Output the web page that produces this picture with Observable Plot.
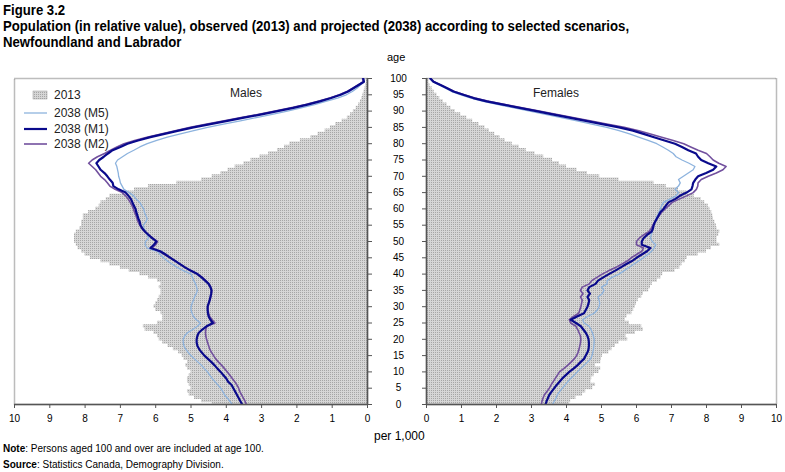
<!DOCTYPE html>
<html>
<head>
<meta charset="utf-8">
<script src="https://cdn.jsdelivr.net/npm/d3@7"></script>
<script src="https://cdn.jsdelivr.net/npm/@observablehq/plot@0.6"></script>
<style>
  body { margin: 0; background: #fff; }
  #root { position: relative; width: 785px; height: 472px; overflow: hidden; font-family: "Liberation Sans", Arial, sans-serif; color: #000; }
  .narrow { font-family: "Liberation Sans Narrow", "Arial Narrow", "Liberation Sans", Arial, sans-serif; }
  .title { position: absolute; left: 3px; font-weight: bold; font-size: 14px; line-height: 16px; white-space: nowrap; transform: scaleX(0.94); transform-origin: 0 0; }
  .abs { position: absolute; white-space: nowrap; }
  .leg { position: absolute; font-size: 12px; color: #222; white-space: nowrap; }
</style>
</head>
<body>
<svg width="0" height="0" style="position:absolute">
  <defs>
    <pattern id="dots" width="2" height="2" patternUnits="userSpaceOnUse">
      <rect width="2" height="2" fill="#d6d6d6"></rect>
      <rect width="1" height="1" fill="#a6a6a6"></rect>
    </pattern>
  </defs>
</svg>
<div id="root">
  <div class="title narrow" style="top:2px">Figure 3.2</div>
  <div class="title narrow" style="top:18px">Population (in relative value), observed (2013) and projected (2038) according to selected scenarios,</div>
  <div class="title narrow" style="top:34px">Newfoundland and Labrador</div>
  <div class="abs" style="left:387px;top:51px;font-size:11px">age</div>
  <div id="left" style="position:absolute;left:0;top:50px"></div>
  <div id="right" style="position:absolute;left:397px;top:50px"></div>
  <div id="legend"></div>
  <div class="abs" style="left:230px;top:86px;font-size:12px;color:#222">Males</div>
  <div class="abs" style="left:533px;top:86px;font-size:12px;color:#222">Females</div>
  <div class="abs" style="left:374px;top:429px;font-size:12px">per 1,000</div>
  <div class="abs narrow" style="left:3px;top:443px;font-size:10px"><b>Note</b>: Persons aged 100 and over are included at age 100.</div>
  <div class="abs narrow" style="left:3px;top:459px;font-size:10px"><b>Source</b>:  Statistics Canada, Demography Division.</div>
</div>
<script>
const ages = d3.range(0, 101);
const xTicks = [0,1,2,3,4,5,6,7,8,9,10];
const ageTicks = [0,5,10,15,20,25,30,35,40,45,50,55,60,65,70,75,80,85,90,95,100];
const seriesNames = ["2013", "2038 (M5)", "2038 (M1)", "2038 (M2)"];

const males2013 = [4.4,4.7,4.9,5.05,5.1,5.0,5.05,5.1,5.1,5.05,5.0,5.1,5.15,5.1,5.2,5.25,5.35,5.5,5.65,5.8,
  5.9,5.95,6.05,6.3,6.35,5.95,5.8,5.8,5.85,6.0,6.05,6.0,5.95,5.9,5.85,5.85,5.9,5.85,5.95,6.2,
  6.45,6.75,7.0,7.3,7.55,7.85,8.0,8.1,8.2,8.25,8.3,8.3,8.3,8.25,8.15,8.1,8.1,8.05,8.05,7.9,
  7.7,7.6,7.55,7.4,7.3,6.8,6.6,6.2,5.4,4.7,4.4,4.15,3.95,3.75,3.5,3.3,3.05,2.8,2.55,2.35,
  2.2,1.9,1.6,1.4,1.2,1.05,0.9,0.72,0.57,0.48,0.4,0.32,0.25,0.2,0.16,0.13,0.1,0.07,0.05,0.03,0.03];
const malesM1 = [3.55,3.6,3.65,3.7,3.75,3.8,3.85,3.95,4.0,4.08,4.16,4.25,4.33,4.42,4.52,4.62,4.7,4.77,4.82,4.84,
  4.84,4.82,4.78,4.68,4.56,4.38,4.45,4.5,4.52,4.53,4.53,4.5,4.47,4.45,4.43,4.42,4.45,4.5,4.6,4.7,
  4.82,5.0,5.16,5.3,5.44,5.58,5.72,5.87,6.15,6.05,5.98,6.1,6.2,6.3,6.38,6.43,6.45,6.49,6.52,6.55,
  6.57,6.62,6.66,6.7,6.77,6.85,7.05,7.2,7.22,7.3,7.37,7.45,7.56,7.62,7.68,7.6,7.47,7.35,7.22,7.0,
  6.8,6.5,6.15,5.75,5.35,4.93,4.45,3.97,3.5,3.0,2.55,2.1,1.7,1.35,1.03,0.76,0.55,0.4,0.25,0.1,0.12];
const malesM2 = [3.43,3.47,3.52,3.57,3.62,3.65,3.7,3.76,3.83,3.9,3.97,4.05,4.13,4.22,4.3,4.36,4.42,4.47,4.5,4.53,
  4.56,4.58,4.59,4.58,4.55,4.32,4.4,4.47,4.5,4.52,4.52,4.5,4.47,4.44,4.42,4.41,4.44,4.5,4.58,4.68,
  4.8,4.98,5.15,5.3,5.44,5.6,5.75,5.9,6.1,6.0,5.95,6.08,6.2,6.3,6.38,6.45,6.5,6.53,6.56,6.6,
  6.63,6.67,6.72,6.78,6.85,6.95,7.15,7.3,7.37,7.45,7.56,7.63,7.7,7.8,7.9,7.8,7.65,7.45,7.28,7.1,
  6.9,6.6,6.25,5.85,5.45,5.02,4.55,4.06,3.58,3.08,2.62,2.17,1.76,1.4,1.07,0.8,0.58,0.42,0.27,0.12,0.14];
const malesM5 = [3.83,3.9,3.97,4.05,4.1,4.16,4.24,4.32,4.4,4.47,4.53,4.62,4.7,4.8,4.9,5.0,5.08,5.15,5.2,5.22,
  5.22,5.18,5.1,4.95,4.82,4.73,4.85,4.93,4.97,5.0,5.0,4.97,4.93,4.9,4.85,4.82,4.84,4.87,4.92,4.96,
  5.0,5.2,5.38,5.53,5.67,5.78,5.87,5.95,6.24,6.3,6.29,6.2,6.24,6.28,6.33,6.35,6.28,6.24,6.28,6.32,
  6.34,6.4,6.45,6.55,6.62,6.75,6.9,6.95,7.0,7.02,7.05,7.06,7.08,7.1,7.14,7.08,6.94,6.8,6.62,6.45,
  6.24,5.97,5.67,5.3,4.92,4.53,4.08,3.6,3.15,2.7,2.27,1.88,1.5,1.18,0.85,0.6,0.43,0.3,0.2,0.1,0.12];

const females2013 = [4.08,4.12,4.27,4.46,4.55,4.75,4.83,4.7,4.72,4.79,4.93,4.98,4.83,4.98,5.0,5.03,5.21,5.3,5.4,5.5,
  5.75,5.7,5.97,6.2,6.15,5.8,5.68,5.73,5.87,5.92,5.97,6.0,6.05,6.15,6.2,6.35,6.4,6.45,6.6,6.7,
  6.75,7.1,7.24,7.3,7.4,7.45,7.76,8.0,8.14,8.38,8.3,8.3,8.35,8.38,8.3,8.28,8.24,8.2,8.18,8.15,
  8.1,8.05,7.95,7.85,7.65,7.45,7.2,6.85,6.5,5.5,4.95,4.6,4.3,4.0,3.8,3.6,3.35,3.1,2.85,2.65,
  2.45,2.25,2.1,1.95,1.8,1.67,1.5,1.32,1.15,0.98,0.82,0.7,0.59,0.48,0.38,0.3,0.22,0.16,0.1,0.07,0.06];
const femalesM1 = [3.4,3.43,3.47,3.51,3.58,3.65,3.72,3.8,3.88,3.98,4.08,4.2,4.31,4.4,4.5,4.55,4.6,4.63,4.64,4.64,
  4.63,4.6,4.55,4.48,4.41,4.27,4.12,4.3,4.5,4.55,4.6,4.63,4.65,4.6,4.67,4.6,4.65,4.83,4.9,5.05,
  5.21,5.38,5.54,5.7,5.87,6.0,6.15,6.3,6.4,6.15,6.15,6.2,6.3,6.43,6.47,6.49,6.53,6.58,6.63,6.68,
  6.77,6.84,6.91,7.1,7.24,7.43,7.57,7.6,7.62,7.68,7.76,7.99,8.19,8.28,8.05,7.85,7.76,7.7,7.48,7.3,
  7.1,6.8,6.5,6.2,5.9,5.5,5.02,4.55,4.08,3.6,3.14,2.66,2.19,1.72,1.34,1.05,0.77,0.59,0.4,0.2,0.11];
const femalesM2 = [3.28,3.3,3.33,3.37,3.44,3.51,3.56,3.62,3.68,3.74,3.8,3.92,4.03,4.13,4.22,4.29,4.33,4.36,4.38,4.4,
  4.41,4.4,4.36,4.32,4.27,4.12,4.08,4.2,4.35,4.38,4.41,4.43,4.45,4.4,4.47,4.4,4.45,4.65,4.72,4.87,
  5.02,5.2,5.4,5.57,5.73,5.85,6.0,6.15,6.2,6.0,6.0,6.08,6.2,6.35,6.42,6.47,6.52,6.58,6.65,6.72,
  6.82,6.92,7.02,7.22,7.43,7.62,7.71,7.75,7.76,7.85,8.05,8.28,8.47,8.56,8.35,8.19,8.1,8.0,7.76,7.55,
  7.35,7.05,6.72,6.4,6.07,5.65,5.15,4.67,4.18,3.7,3.22,2.73,2.25,1.78,1.38,1.08,0.8,0.6,0.41,0.21,0.12];
const femalesM5 = [3.6,3.65,3.7,3.74,3.81,3.88,3.96,4.04,4.12,4.22,4.31,4.4,4.5,4.6,4.69,4.73,4.75,4.77,4.78,4.79,
  4.79,4.77,4.74,4.7,4.65,4.5,4.46,4.6,4.79,4.88,4.93,4.95,4.93,4.9,5.02,5.07,5.0,5.16,5.16,5.3,
  5.5,5.64,5.78,5.92,6.06,6.2,6.32,6.43,6.5,6.55,6.45,6.4,6.42,6.45,6.47,6.49,6.52,6.55,6.6,6.64,
  6.68,6.72,6.77,6.95,7.13,7.2,7.1,7.2,7.25,7.2,7.34,7.48,7.62,7.67,7.5,7.3,7.13,7.05,6.91,6.75,
  6.58,6.33,6.06,5.8,5.5,5.15,4.72,4.3,3.85,3.4,2.95,2.5,2.05,1.62,1.27,0.98,0.72,0.54,0.36,0.18,0.1];

const colors = {m5: "#8db3de", m1: "#0a0a8c", m2: "#72509e"};
const widths = {m5: 1.3, m1: 2.2, m2: 1.6};

const toSeries = vals => ages.map((a, i) => ({age: a, value: vals[i]}));
const toSteps = vals => ages.flatMap((a, i) => [{age: a - 0.5, value: vals[i]}, {age: a + 0.5, value: vals[i]}]);

const fontStyle = {fontFamily: "Liberation Sans, Arial, sans-serif", fontSize: "10px", color: "#000", background: "transparent", overflow: "visible"};

function panel(side, obs, m1, m2, m5) {
  const left = side === "left";
  return Plot.plot({
    width: left ? 397 : 388,
    height: 376,
    marginTop: 28,
    marginBottom: 22,
    marginLeft: left ? 14 : 29,
    marginRight: left ? 30 : 9,
    style: fontStyle,
    x: {domain: left ? [10, 0] : [0, 10]},
    y: {domain: [0, 100]},
    marks: [
      Plot.areaX(toSteps(obs), {y: "age", x1: 0, x2: "value", fill: "url(#dots)", clip: true}),
      Plot.frame({stroke: "#7a7a7a", strokeWidth: 1.5, strokeDasharray: "1,1"}),
      Plot.lineX(toSeries(m5), {x: "value", y: "age", stroke: colors.m5, strokeWidth: widths.m5, clip: true}),
      Plot.lineX(toSeries(m2), {x: "value", y: "age", stroke: colors.m2, strokeWidth: widths.m2, clip: true}),
      Plot.lineX(toSeries(m1), {x: "value", y: "age", stroke: colors.m1, strokeWidth: widths.m1, clip: true}),
      Plot.ruleX([0], {stroke: "#555", strokeWidth: 1.5}),
      Plot.ruleY([0], {stroke: "#555", strokeWidth: 1.5}),
      Plot.axisX({ticks: xTicks, tickSize: 4, tickPadding: 6, tickFormat: d3.format("d"), label: null, stroke: "#555"}),
      left
        ? Plot.axisY({anchor: "right", ticks: ageTicks, tickSize: 4, tickPadding: 27, textAnchor: "middle", tickFormat: d3.format("d"), label: null, stroke: "#555"})
        : Plot.axisY({anchor: "left", ticks: ageTicks, tickSize: 4, tickFormat: () => "", label: null, stroke: "#555"})
    ]
  });
}

document.getElementById("left").appendChild(panel("left", males2013, malesM1, malesM2, malesM5));
document.getElementById("right").appendChild(panel("right", females2013, femalesM1, femalesM2, femalesM5));

// legend
const legendItems = [
  {name: seriesNames[0], kind: "swatch", top: 87},
  {name: seriesNames[1], kind: "m5", top: 105},
  {name: seriesNames[2], kind: "m1", top: 121},
  {name: seriesNames[3], kind: "m2", top: 136}
];
const legend = document.getElementById("legend");
for (const it of legendItems) {
  const row = document.createElement("div");
  row.className = "leg";
  row.style.left = "22px";
  row.style.top = it.top + "px";
  row.style.height = "15px";
  row.style.display = "flex";
  row.style.alignItems = "center";
  const sw = it.kind === "swatch"
    ? `<svg width="30" height="14"><rect x="11" y="3" width="14" height="8" fill="url(#dots)" stroke="#999" stroke-width="0.5"></rect></svg>`
    : `<svg width="30" height="14"><line x1="2" x2="25" y1="7" y2="7" stroke="${colors[it.kind]}" stroke-width="${widths[it.kind]}"></line></svg>`;
  row.innerHTML = sw + `<span style="margin-left:2px">${it.name}</span>`;
  legend.appendChild(row);
}
</script>
</body>
</html>
